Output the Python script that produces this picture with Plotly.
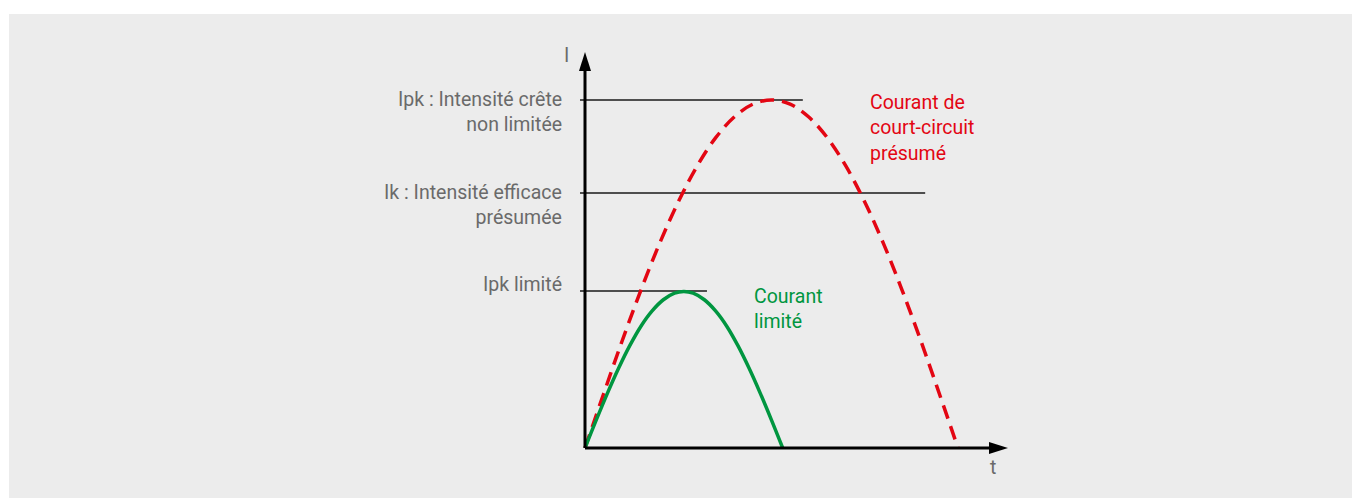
import plotly.graph_objects as go

# ---- data ----
# time in ms, current relative to the unlimited peak Ipk
red_t = [0, 0.5, 1, 1.5, 2, 2.5, 3, 3.5, 4, 4.5, 5, 5.5, 6, 6.5, 7, 7.5, 8, 8.5, 9, 9.5, 10]
red_i = [0, 0.156, 0.309, 0.454, 0.588, 0.707, 0.809, 0.891, 0.951, 0.988, 1.0,
         0.988, 0.951, 0.891, 0.809, 0.707, 0.588, 0.454, 0.309, 0.156, 0]
green_t = [0, 0.3, 0.6, 0.9, 1.2, 1.5, 1.8, 2.1, 2.4, 2.65, 2.9, 3.2, 3.5, 3.8, 4.1, 4.4, 4.7, 5.0, 5.3]
green_i = [0, 0.080, 0.157, 0.229, 0.294, 0.350, 0.394, 0.426, 0.445, 0.450,
           0.445, 0.426, 0.394, 0.350, 0.294, 0.229, 0.157, 0.080, 0]
level_values = [1.0, 0.733, 0.451]
level_ends = [5.84, 9.12, 3.27]
level_labels = [["Ipk : Intensité crête", "non limitée"],
                ["Ik : Intensité efficace", "présumée"],
                ["Ipk limité"]]
red_label = ["Courant de", "court-circuit", "présumé"]
green_label = ["Courant", "limité"]

# ---- layout geometry (screen pixels; the page body adds an 8px offset) ----
W, H = 1360, 498
OFF = 8
PX_PER_MS = 37.3
X0_PX, Y0_PX, PX_PER_UNIT = 585 - OFF, 448 - OFF, 348
xr = [-X0_PX / PX_PER_MS, (W - X0_PX) / PX_PER_MS]
yr = [-(H - Y0_PX) / PX_PER_UNIT, Y0_PX / PX_PER_UNIT]

def px2x(p):
    return (p - OFF - X0_PX) / PX_PER_MS

def px2y(p):
    return (Y0_PX - (p - OFF)) / PX_PER_UNIT

RED = "#e30613"
GREEN = "#009640"
GREY = "#6a6a6a"
FONT = "Roboto"
FS = 19.5

fig = go.Figure()
fig.add_trace(go.Scatter(x=red_t, y=red_i, mode="lines",
                         line=dict(color=RED, width=3.5, dash="14px,8px", shape="spline"),
                         hoverinfo="skip"))
fig.add_trace(go.Scatter(x=green_t, y=green_i, mode="lines",
                         line=dict(color=GREEN, width=3.5, shape="spline"),
                         hoverinfo="skip"))

shapes = []
# grey panel
shapes.append(dict(type="rect", xref="paper", yref="paper", x0=(9 - OFF) / W, x1=1.01, y0=-0.05,
                   y1=(H - (14 - OFF)) / H,
                   fillcolor="#ececec", line=dict(width=0), layer="below"))
# level lines
for v, e in zip(level_values, level_ends):
    shapes.append(dict(type="line", xref="x", yref="y", x0=px2x(580), x1=e, y0=v, y1=v,
                       line=dict(color="#1a1a1a", width=1.5), layer="below"))
# axes
ytip = px2y(52)
xtip = px2x(1008)
shapes.append(dict(type="line", xref="x", yref="y", x0=0, x1=0, y0=0, y1=ytip - 0.03,
                   line=dict(color="black", width=3)))
shapes.append(dict(type="line", xref="x", yref="y", x0=0, x1=xtip - 0.3, y0=0, y1=0,
                   line=dict(color="black", width=3)))
shapes.append(dict(type="path", xref="x", yref="y", xsizemode="pixel", ysizemode="pixel",
                   xanchor=0, yanchor=ytip, path="M0,0 L-6,-19 L6,-19 Z",
                   fillcolor="black", line=dict(width=0)))
shapes.append(dict(type="path", xref="x", yref="y", xsizemode="pixel", ysizemode="pixel",
                   xanchor=xtip, yanchor=0, path="M0,0 L-19,6 L-19,-6 Z",
                   fillcolor="black", line=dict(width=0)))

ann = []
def label(lines, xpx, ypx, color, xanchor):
    # ypx: centre of the text block in screen pixels
    ann.append(dict(text="<br>".join(lines), x=px2x(xpx), y=px2y(ypx), xref="x", yref="y",
                    xanchor=xanchor, yanchor="middle", align=xanchor if xanchor != "center" else "center",
                    showarrow=False,
                    font=dict(family=FONT, size=FS, color=color)))

# axis titles
label(["I"], 566, 55, GREY, "center")
label(["t"], 993, 467, GREY, "center")
# level labels (block centres in pixels)
for lines, c in zip(level_labels, [111.5, 204.5, 284]):
    label(lines, 564, c, GREY, "right")
label(red_label, 868, 128, RED, "left")
label(green_label, 752, 308.5, GREEN, "left")

fig.update_layout(
    width=W, height=H, margin=dict(l=0, r=0, t=0, b=0),
    paper_bgcolor="white", plot_bgcolor="rgba(0,0,0,0)",
    showlegend=False, shapes=shapes, annotations=ann,
    xaxis=dict(range=xr, visible=False, fixedrange=True),
    yaxis=dict(range=yr, visible=False, fixedrange=True),
)
fig.write_html("out.html")
